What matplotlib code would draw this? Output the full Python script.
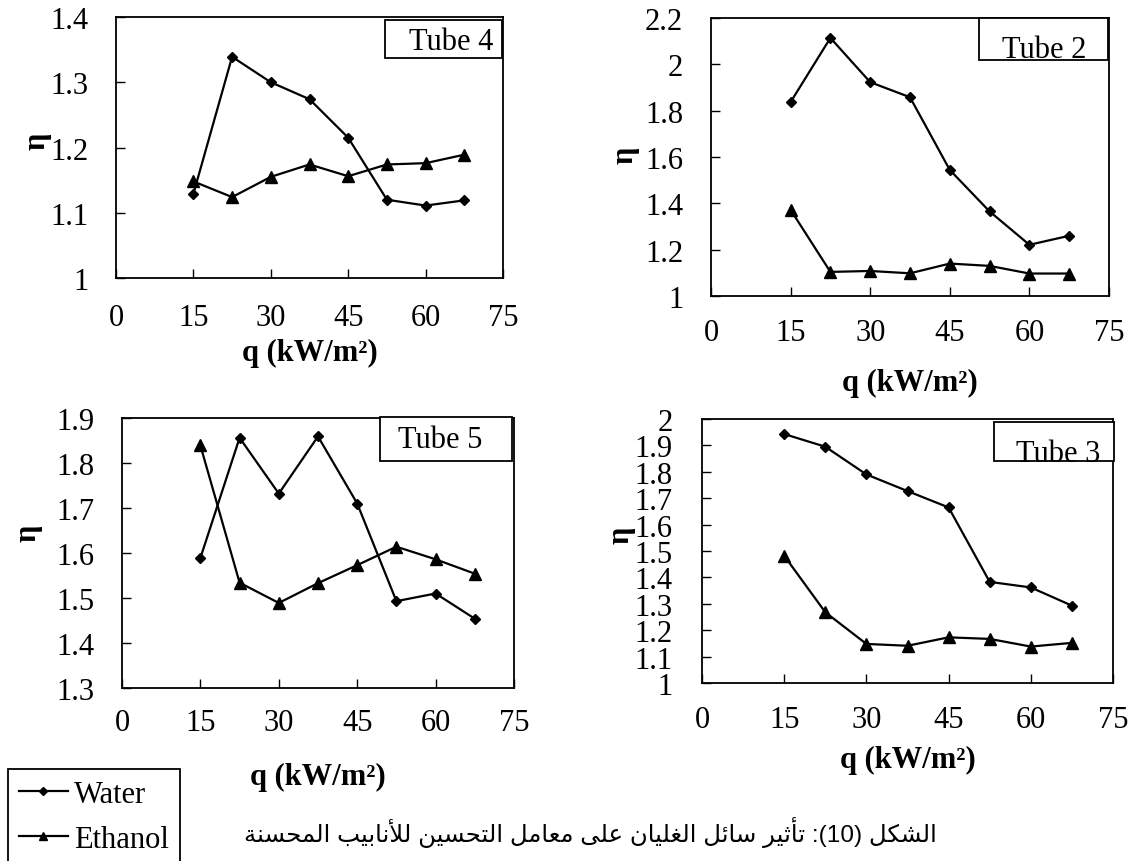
import matplotlib
matplotlib.use("Agg")
import matplotlib.pyplot as plt
from matplotlib.patches import Rectangle

# ---------------- data ----------------
q = [15, 22.5, 30, 37.5, 45, 52.5, 60, 67.5]
x_ticks = [0, 15, 30, 45, 60, 75]

tube4_water = [1.129, 1.339, 1.300, 1.274, 1.215, 1.120, 1.111, 1.119]
tube4_ethanol = [1.148, 1.124, 1.155, 1.174, 1.156, 1.174, 1.176, 1.189]
tube4_yticks = [1.0, 1.1, 1.2, 1.3, 1.4]
tube4_ylabels = ["1", "1.1", "1.2", "1.3", "1.4"]

tube2_water = [1.837, 2.114, 1.923, 1.858, 1.544, 1.365, 1.221, 1.260]
tube2_ethanol = [1.372, 1.104, 1.108, 1.098, 1.140, 1.130, 1.097, 1.097]
tube2_yticks = [1.0, 1.2, 1.4, 1.6, 1.8, 2.0, 2.2]
tube2_ylabels = ["1", "1.2", "1.4", "1.6", "1.8", "2", "2.2"]

tube5_water = [1.589, 1.856, 1.732, 1.859, 1.710, 1.493, 1.510, 1.454]
tube5_ethanol = [1.839, 1.534, 1.489, 1.533, 1.573, 1.614, 1.586, 1.554]
tube5_yticks = [1.3, 1.4, 1.5, 1.6, 1.7, 1.8, 1.9]
tube5_ylabels = ["1.3", "1.4", "1.5", "1.6", "1.7", "1.8", "1.9"]

tube3_water = [1.943, 1.895, 1.790, 1.727, 1.665, 1.383, 1.362, 1.293]
tube3_ethanol = [1.482, 1.268, 1.148, 1.141, 1.173, 1.167, 1.138, 1.152]
tube3_yticks = [1.0, 1.1, 1.2, 1.3, 1.4, 1.5, 1.6, 1.7, 1.8, 1.9, 2.0]
tube3_ylabels = ["1", "1.1", "1.2", "1.3", "1.4", "1.5", "1.6", "1.7", "1.8", "1.9", "2"]

series_names = ["Water", "Ethanol"]
panel_titles = ["Tube 4", "Tube 2", "Tube 5", "Tube 3"]
x_label = "q (kW/m²)"
y_label = "η"
caption = "الشكل (10): تأثير سائل الغليان على معامل التحسين للأنابيب المحسنة"

# ---------------- minimal Arabic shaping (visual order) ----------------
FORMS = {
    '\u0627': (0xFE8D, 0xFE8E, None, None),
    '\u0623': (0xFE83, 0xFE84, None, None),
    '\u0628': (0xFE8F, 0xFE90, 0xFE91, 0xFE92),
    '\u0629': (0xFE93, 0xFE94, None, None),
    '\u062A': (0xFE95, 0xFE96, 0xFE97, 0xFE98),
    '\u062B': (0xFE99, 0xFE9A, 0xFE9B, 0xFE9C),
    '\u062D': (0xFEA1, 0xFEA2, 0xFEA3, 0xFEA4),
    '\u0631': (0xFEAD, 0xFEAE, None, None),
    '\u0633': (0xFEB1, 0xFEB2, 0xFEB3, 0xFEB4),
    '\u0634': (0xFEB5, 0xFEB6, 0xFEB7, 0xFEB8),
    '\u0639': (0xFEC9, 0xFECA, 0xFECB, 0xFECC),
    '\u063A': (0xFECD, 0xFECE, 0xFECF, 0xFED0),
    '\u0643': (0xFED9, 0xFEDA, 0xFEDB, 0xFEDC),
    '\u0644': (0xFEDD, 0xFEDE, 0xFEDF, 0xFEE0),
    '\u0645': (0xFEE1, 0xFEE2, 0xFEE3, 0xFEE4),
    '\u0646': (0xFEE5, 0xFEE6, 0xFEE7, 0xFEE8),
    '\u0649': (0xFEEF, 0xFEF0, None, None),
    '\u064A': (0xFEF1, 0xFEF2, 0xFEF3, 0xFEF4),
    '\u0626': (0xFE89, 0xFE8A, 0xFE8B, 0xFE8C),
}
LIGS = {'\u0627': (0xFEFB, 0xFEFC, None, None), '\u0623': (0xFEF7, 0xFEF8, None, None)}


def shape_word(word):
    units = []
    i = 0
    while i < len(word):
        c = word[i]
        if c == '\u0644' and i + 1 < len(word) and word[i + 1] in LIGS:
            units.append(LIGS[word[i + 1]])
            i += 2
            continue
        units.append(FORMS[c])
        i += 1
    out = []
    n = len(units)
    for k, f in enumerate(units):
        prev_j = k > 0 and units[k - 1][2] is not None
        next_j = f[2] is not None and k < n - 1
        if prev_j and next_j:
            g = f[3]
        elif prev_j:
            g = f[1]
        elif next_j:
            g = f[2]
        else:
            g = f[0]
        out.append(chr(g))
    return ''.join(reversed(out))


def visual(text):
    toks = text.split(' ')
    res = []
    for t in reversed(toks):
        if any(c in FORMS for c in t):
            res.append(shape_word(t))
        else:
            r = []
            digits = ''
            for c in reversed(t):
                if c.isdigit():
                    digits = c + digits
                    continue
                if digits:
                    r.append(digits)
                    digits = ''
                r.append({'(': ')', ')': '('}.get(c, c))
            if digits:
                r.append(digits)
            res.append(''.join(r))
    return ' '.join(res)


# ---------------- figure ----------------
W, H = 1135, 862
fig = plt.figure(figsize=(W / 100, H / 100), dpi=100)
SERIF = "Liberation Serif"
FS = 22


def fx(px):
    return px / W


def fy(py):
    return 1 - py / H


panels = [
    dict(box=(116, 503, 18, 279), water=tube4_water, eth=tube4_ethanol,
         yt=tube4_yticks, yl=tube4_ylabels, xpad=18, ypad=20,
         xlab=(310, 353), ylab=(37, 141),
         tbox=(385, 502, 21, 59), ttxt=(451, 50)),
    dict(box=(711, 1109, 19, 297), water=tube2_water, eth=tube2_ethanol,
         yt=tube2_yticks, yl=tube2_ylabels, xpad=16, ypad=20,
         xlab=(910, 383), ylab=(625, 155),
         tbox=(979, 1108, 19, 61), ttxt=(1044, 58)),
    dict(box=(122, 514, 419, 689), water=tube5_water, eth=tube5_ethanol,
         yt=tube5_yticks, yl=tube5_ylabels, xpad=14.5, ypad=20,
         xlab=(318, 777), ylab=(28, 533),
         tbox=(380, 512, 418, 462), ttxt=(440, 448)),
    dict(box=(702, 1113, 420, 684), water=tube3_water, eth=tube3_ethanol,
         yt=tube3_yticks, yl=tube3_ylabels, xpad=16, ypad=21,
         xlab=(908, 760), ylab=(621, 535),
         tbox=(994, 1114, 423, 462), ttxt=(1058, 462)),
]

legend_handles = None
for p, title in zip(panels, panel_titles):
    l, r, t, b = p["box"]
    ax = fig.add_axes([fx(l), fy(b), (r - l) / W, (b - t) / H])
    lw, = ax.plot(q, p["water"], color="black", lw=1.6, marker="D", ms=5,
                  mfc="black", mec="black", label=series_names[0])
    le, = ax.plot(q, p["eth"], color="black", lw=1.6, marker="^", ms=8,
                  mfc="black", mec="black", label=series_names[1])
    if legend_handles is None:
        legend_handles = [lw, le]
    ax.set_xlim(0, 75)
    ax.set_ylim(p["yt"][0], p["yt"][-1])
    ax.set_xticks(x_ticks)
    ax.set_xticklabels([str(v) for v in x_ticks])
    ax.set_yticks(p["yt"])
    ax.set_yticklabels(p["yl"])
    ax.tick_params(axis="both", direction="in", length=6.5, width=1.0,
                   labelsize=FS, colors="black")
    ax.tick_params(axis="x", pad=p["xpad"])
    ax.tick_params(axis="y", pad=p["ypad"])
    for lab in ax.get_xticklabels() + ax.get_yticklabels():
        lab.set_fontfamily(SERIF)
    for s in ax.spines.values():
        s.set_linewidth(1.3)
        s.set_color("black")
    # axis labels
    fig.text(fx(p["xlab"][0]), fy(p["xlab"][1]), x_label, ha="center", va="center",
             fontsize=FS, fontweight="bold", family=SERIF)
    fig.text(fx(p["ylab"][0]), fy(p["ylab"][1]), y_label, ha="center", va="center",
             rotation=90, fontsize=FS, fontweight="bold", family=SERIF)
    # tube label box
    bl, br, bt, bb = p["tbox"]
    fig.add_artist(Rectangle((fx(bl), fy(bb)), (br - bl) / W, (bb - bt) / H,
                             transform=fig.transFigure, facecolor="white",
                             edgecolor="black", lw=1.3, zorder=5))
    fig.text(fx(p["ttxt"][0]), fy(p["ttxt"][1]), title, ha="center", va="baseline",
             fontsize=FS, family=SERIF, zorder=6)

leg = fig.legend(legend_handles, series_names, loc="upper left",
                 bbox_to_anchor=(fx(8), fy(770)), bbox_transform=fig.transFigure,
                 borderaxespad=0, frameon=True, fancybox=False, framealpha=1,
                 edgecolor="black", prop={"family": SERIF, "size": FS},
                 handlelength=1.6, handletextpad=0.2, labelspacing=0.52,
                 borderpad=0.36, markerscale=0.75)
leg.get_frame().set_linewidth(1.3)

fig.text(fx(590), fy(833), visual(caption), ha="center", va="center",
         fontsize=17.6, family=["Liberation Sans", "DejaVu Sans"])

fig.savefig("out.png", dpi=100)
